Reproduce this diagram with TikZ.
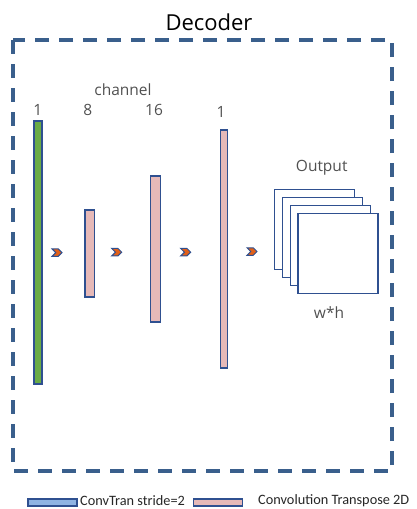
\documentclass[tikz,border=0pt]{standalone}
\usepackage{fontspec}
\setmainfont{Open Sans}
\newfontfamily\legfont{Carlito}
\usetikzlibrary{shapes.symbols}
\definecolor{frameblue}{HTML}{3A5F8C}
\definecolor{edgeblue}{HTML}{2F5090}
\definecolor{barpink}{HTML}{E6B9B8}
\definecolor{bargreen}{HTML}{6AAB46}
\definecolor{legblue}{HTML}{8FB4E3}
\definecolor{chevorange}{HTML}{E0601A}
\definecolor{txtgrey}{HTML}{505050}
\tikzset{
  barbox/.style={draw=edgeblue, line width=1.2pt, inner sep=0pt, outer sep=0pt},
  sheet/.style={draw=edgeblue, fill=white, line width=1.3pt, minimum width=80pt, minimum height=80pt, inner sep=0pt},
  chev/.style={signal, signal from=west, signal to=east, draw=edgeblue, fill=chevorange, line width=1pt, minimum width=10pt, minimum height=7.5pt, inner sep=0pt},
  lbl/.style={text=txtgrey, font=\fontsize{15.5}{18}\selectfont, inner sep=0pt},
  legtxt/.style={font=\legfont\fontsize{14.3}{16}\selectfont, text=black!85, inner sep=0pt, anchor=west}
}
\begin{document}
\begin{tikzpicture}[x=1pt,y=-1pt]
\useasboundingbox (0,0) rectangle (416,509);
% title
\node[font=\fontsize{22}{26}\selectfont, inner sep=0pt] (title) at (209,22) {Decoder};
% frame
\draw[frameblue, line width=3.2pt, dash pattern=on 14pt off 10pt] (13,40) rectangle (392,471);
% labels
\node[lbl] (ch) at (123,90) {channel};
\node[lbl] (n1) at (37.7,110) {1};
\node[lbl] (n2) at (87.7,110) {8};
\node[lbl] (n3) at (154,110) {16};
\node[lbl] (n4) at (221,112) {1};
% bars
\node[barbox, fill=bargreen, minimum width=8pt, minimum height=263pt] (b1) at (38,252.5) {};
\node[barbox, fill=barpink, minimum width=9.5pt, minimum height=87pt] (b2) at (89.8,253.5) {};
\node[barbox, fill=barpink, minimum width=10pt, minimum height=146pt] (b3) at (155.8,249) {};
\node[barbox, fill=barpink, minimum width=7pt, minimum height=238pt] (b4) at (223.8,249) {};
% chevrons
\node[chev] (c1) at (57,252.7) {};
\node[chev] (c2) at (116.7,252.2) {};
\node[chev] (c3) at (185.7,252.2) {};
\node[chev] (c4) at (252,251.5) {};
% output sheets
\node[sheet] (s1) at (314.6,229.3) {};
\node[sheet] (s2) at (322.5,237.3) {};
\node[sheet] (s3) at (330.2,245.2) {};
\node[sheet] (s4) at (338,253.3) {};
\node[lbl] (out) at (321.7,168) {Output};
\node[lbl] (wh) at (329,313) {w*h};
% legend
\node[barbox, fill=legblue, minimum width=49pt, minimum height=7pt] (l1) at (52.5,502.5) {};
\node[legtxt] (t1) at (80,500.5) {ConvTran stride=2};
\node[barbox, fill=barpink, minimum width=49pt, minimum height=7pt] (l2) at (218,502.5) {};
\node[legtxt] (t2) at (258,500.5) {Convolution Transpose 2D};
\end{tikzpicture}
\end{document}
